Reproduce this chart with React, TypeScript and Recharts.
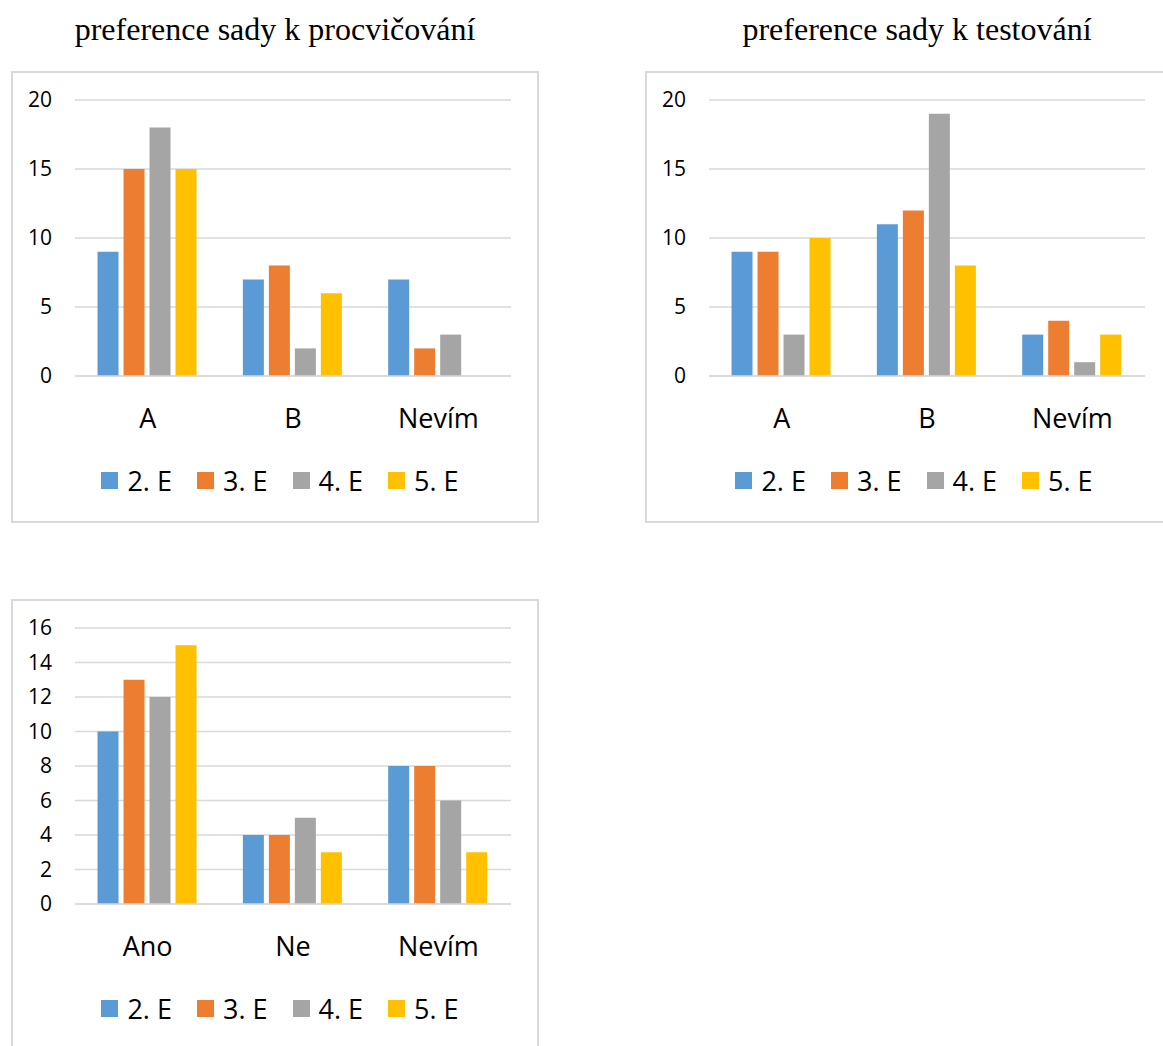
import { BarChart, Bar, XAxis, YAxis, CartesianGrid, Legend } from 'recharts';

const seriesNames = ['2. E', '3. E', '4. E', '5. E'];
const seriesColors = ['#5B9BD5', '#ED7D31', '#A5A5A5', '#FFC000'];

// preference sady k procvičování
const practiceCategories = ['A', 'B', 'Nevím'];
const practice2E = [9, 7, 7];
const practice3E = [15, 8, 2];
const practice4E = [18, 2, 3];
const practice5E = [15, 6, 0];

// preference sady k testování
const testingCategories = ['A', 'B', 'Nevím'];
const testing2E = [9, 11, 3];
const testing3E = [9, 12, 4];
const testing4E = [3, 19, 1];
const testing5E = [10, 8, 3];

// third chart (no title)
const thirdCategories = ['Ano', 'Ne', 'Nevím'];
const third2E = [10, 4, 8];
const third3E = [13, 4, 8];
const third4E = [12, 5, 6];
const third5E = [15, 3, 3];

const ticksTo20 = [0, 5, 10, 15, 20];
const ticksTo16 = [0, 2, 4, 6, 8, 10, 12, 14, 16];

const FONT = '"Open Sans", sans-serif';
const GRID = '#D9D9D9';

function buildRows(categories: string[], values: number[][]) {
  return categories.map((category, i) => {
    const row: Record<string, string | number> = { category };
    values.forEach((v, s) => {
      row[`s${s}`] = v[i];
    });
    return row;
  });
}

function renderLegend(props: any) {
  const payload = props.payload || [];
  return (
    <div
      style={{
        display: 'flex',
        justifyContent: 'center',
        alignItems: 'center',
        height: 36,
        paddingLeft: 10,
        fontFamily: FONT,
        fontSize: 27,
        color: '#000',
      }}
    >
      {payload.map((entry: any, i: number) => (
        <div
          key={entry.value}
          style={{ display: 'flex', alignItems: 'center', marginLeft: i ? 25 : 0 }}
        >
          <span
            style={{
              display: 'inline-block',
              width: 17,
              height: 17,
              background: entry.color,
              marginRight: 9,
            }}
          />
          <span>{entry.value}</span>
        </div>
      ))}
    </div>
  );
}

function Panel({
  left,
  top,
  rows,
  yMax,
  ticks,
}: {
  left: number;
  top: number;
  rows: Record<string, string | number>[];
  yMax: number;
  ticks: number[];
}) {
  return (
    <div
      style={{
        position: 'absolute',
        left,
        top,
        width: 528,
        height: 452,
        border: `2px solid ${GRID}`,
        boxSizing: 'border-box',
        background: '#fff',
      }}
    >
      <BarChart
        width={524}
        height={448}
        data={rows}
        margin={{ top: 27, right: 26, bottom: 23, left: 0 }}
        barGap={5}
        barCategoryGap="15.5%"
      >
        <CartesianGrid vertical={false} stroke={GRID} strokeWidth={1.5} />
        <XAxis
          dataKey="category"
          height={86}
          axisLine={{ stroke: GRID, strokeWidth: 1.5 }}
          tickLine={false}
          tickSize={0}
          tickMargin={33}
          tick={{ fontFamily: FONT, fontSize: 27, fill: '#000' }}
        />
        <YAxis
          width={62}
          domain={[0, yMax]}
          ticks={ticks}
          interval={0}
          axisLine={false}
          tickLine={false}
          tickSize={0}
          tickMargin={23}
          tick={{ fontFamily: FONT, fontSize: 21, fill: '#000' }}
        />
        <Legend
          verticalAlign="bottom"
          content={renderLegend}
          wrapperStyle={{ left: 0, width: 524, height: 36 }}
        />
        {seriesNames.map((name, s) => (
          <Bar
            key={name}
            dataKey={`s${s}`}
            name={name}
            fill={seriesColors[s]}
            isAnimationActive={false}
          />
        ))}
      </BarChart>
    </div>
  );
}

const titleStyle: React.CSSProperties = {
  position: 'absolute',
  top: 13,
  width: 528,
  textAlign: 'center',
  fontFamily: '"Liberation Serif", "Times New Roman", serif',
  fontSize: 32,
  lineHeight: 1,
  color: '#000',
  whiteSpace: 'nowrap',
};

export default function App() {
  const practiceRows = buildRows(practiceCategories, [practice2E, practice3E, practice4E, practice5E]);
  const testingRows = buildRows(testingCategories, [testing2E, testing3E, testing4E, testing5E]);
  const thirdRows = buildRows(thirdCategories, [third2E, third3E, third4E, third5E]);

  return (
    <div
      style={{
        position: 'absolute',
        left: 0,
        top: 0,
        width: 1163,
        height: 1046,
        overflow: 'hidden',
        background: '#fff',
      }}
    >
      <div style={{ ...titleStyle, left: 11 }}>preference sady k procvičování</div>
      <div style={{ ...titleStyle, left: 653 }}>preference sady k testování</div>
      <Panel left={11} top={71} rows={practiceRows} yMax={20} ticks={ticksTo20} />
      <Panel left={645} top={71} rows={testingRows} yMax={20} ticks={ticksTo20} />
      <Panel left={11} top={599} rows={thirdRows} yMax={16} ticks={ticksTo16} />
    </div>
  );
}
